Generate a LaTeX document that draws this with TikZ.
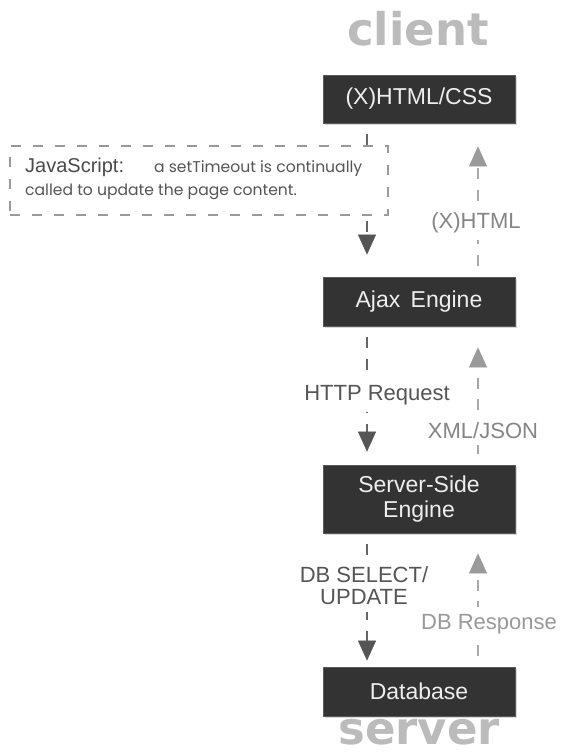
\documentclass[tikz,border=0pt]{standalone}
\usepackage{fontspec}
\setmainfont{Liberation Sans}
\newfontfamily\headfont{DejaVu Sans}
\newfontfamily\notefont{Poppins}
\usetikzlibrary{arrows.meta,shadows}

\definecolor{boxgray}{HTML}{333333}
\definecolor{boxedge}{HTML}{5A5A5A}
\definecolor{boxtext}{HTML}{EEEEEE}
\definecolor{reqline}{HTML}{666666}
\definecolor{reqtip}{HTML}{555555}
\definecolor{reqlab}{HTML}{555555}
\definecolor{respline}{HTML}{A8A8A8}
\definecolor{resptip}{HTML}{9A9A9A}
\definecolor{resplab}{HTML}{858585}
\definecolor{resplabb}{HTML}{999999}
\definecolor{titlegray}{HTML}{BBBBBB}
\definecolor{notegray}{HTML}{9A9A9A}
\definecolor{jsgray}{HTML}{4A4A4A}
\definecolor{notetext}{HTML}{555555}

\begin{document}
\begin{tikzpicture}[x=1pt,y=-1pt,
  tier/.style={draw=boxedge, line width=0.8pt, fill=boxgray, text=boxtext,
    minimum width=192pt, inner sep=0pt, align=center,
    font=\fontsize{23}{25}\selectfont,
    drop shadow={shadow xshift=1.5pt, shadow yshift=-2pt, opacity=0.3}},
  request/.style={draw=reqline, line width=1.3pt,
    dash pattern=on 11pt off 10.75pt, dash phase=11pt,
    -{Triangle[width=18pt, length=20pt, color=reqtip, line width=0.5pt]}},
  response/.style={draw=respline, line width=1.3pt,
    dash pattern=on 11pt off 10.75pt, dash phase=11pt,
    -{Triangle[width=18pt, length=20pt, color=resptip, line width=0.5pt]}},
  lab/.style={fill=white, inner xsep=1.5pt, inner ysep=7pt,
    font=\fontsize{22}{22}\selectfont},
  tiertitle/.style={text=titlegray, inner sep=0pt,
    font=\headfont\bfseries\fontsize{45}{45}\selectfont},
  note/.style={draw=notegray, line width=1.2pt, dash pattern=on 10pt off 12pt,
    fill=white, inner sep=0pt}
]
\fill[white] (0,0) rectangle (565,756);
\useasboundingbox (0,0) rectangle (565,756);

% tier titles
\node[tiertitle, anchor=base] (client) at (418,45) {client};
\node[tiertitle, anchor=base] (server) at (419,744) {server};

% tiers
\node[tier, minimum height=48pt] (html) at (419,99) {(X)HTML/CSS};
\node[tier, minimum height=49pt] (ajax) at (419,301.5) {Ajax\hspace{0.45em}Engine};
\node[tier, minimum height=68pt] (srv) at (419,499) {Server-Side\\Engine};
\node[tier, minimum height=49pt] (db) at (419,691.5) {Database};

% requests going down
\draw[request, shorten >=22pt] ([xshift=-52pt]html.south) -- ([xshift=-52pt]ajax.north);
\draw[request, shorten >=13pt] ([xshift=-52pt]ajax.south) -- ([xshift=-52pt]srv.north);
\draw[request, shorten >=6pt] ([xshift=-52pt]srv.south) -- ([xshift=-52pt]db.north);

% responses going up
\draw[response, shorten >=23pt] ([xshift=59pt]ajax.north) -- ([xshift=59pt]html.south);
\draw[response, shorten >=21pt] ([xshift=59pt]srv.north) -- ([xshift=59pt]ajax.south);
\draw[response, shorten >=20pt] ([xshift=59pt]db.north) -- ([xshift=59pt]srv.south);

% JavaScript note over the first request line
\node[note, minimum width=378pt, minimum height=69pt] (jsbox) at (199,180.5) {};
\node[anchor=base west, inner sep=0pt, text=jsgray] (jsline1) at (25,172)
  {\fontsize{20}{20}\selectfont JavaScript:\hspace{30pt}{\color{notetext}\notefont\fontsize{15.6}{15.6}\selectfont a setTimeout is continually}};
\node[anchor=base west, inner sep=0pt, text=notetext] (jsline2) at (25,195)
  {\notefont\fontsize{15.6}{15.6}\selectfont called to update the page content.};

% connector labels
\node[lab, text=resplab, anchor=base] (lxhtml) at (476,228) {(X)HTML};
\node[lab, text=reqlab, anchor=base] (lhttp) at (377,400) {HTTP Request};
\node[lab, text=resplab, anchor=base] (lxml) at (483,438) {XML/JSON};
\node[lab, text=reqlab, align=center] (ldb) at (364,586) {DB SELECT/\\UPDATE};
\node[lab, text=resplabb, anchor=base] (lresp) at (489,629) {DB Response};
\end{tikzpicture}
\end{document}
